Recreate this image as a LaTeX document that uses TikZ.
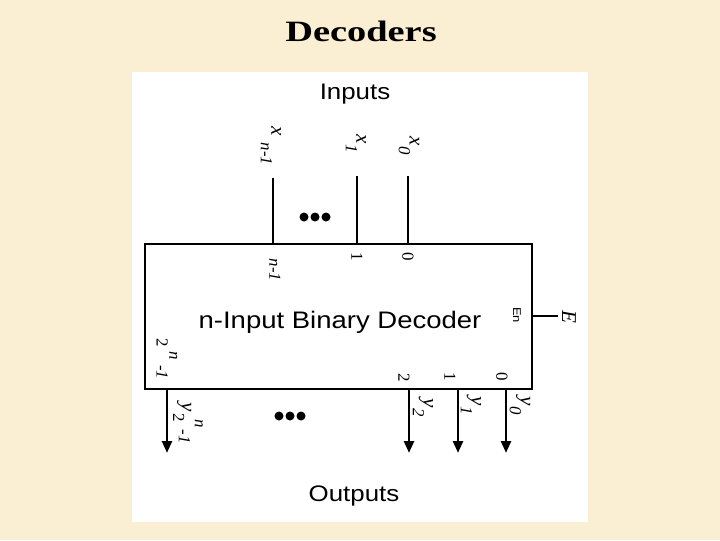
\documentclass[tikz,border=0pt]{standalone}
\usepackage{fontspec}
\setmainfont{Liberation Serif}
\setsansfont{Liberation Sans}[FakeStretch=1.15]
\newfontfamily\titlefont{Liberation Serif}[FakeStretch=1.3]
\usetikzlibrary{arrows.meta}
\definecolor{parchment}{RGB}{250,238,211}

\tikzset{
  inwire/.style={line width=1.3pt},
  buswire/.style={line width=2pt},
  outwire/.style={line width=2pt, -{Triangle[length=8.5pt,width=7pt]}},
  sig/.style={rotate=-90, inner sep=0pt, font=\fontsize{15}{15}\selectfont},
  portlbl/.style={rotate=-90, inner sep=0pt, font=\fontsize{12}{12}\selectfont},
  dot/.style={radius=4.5}
}
\newcommand{\subsz}{\fontsize{12}{12}\selectfont}
\newcommand{\signame}[3][0.05em]{\textit{#2}\raisebox{-7.5pt}{\subsz\hspace{#1}\textit{#3}}}

\begin{document}
\begin{tikzpicture}[x=0.025cm, y=-0.025cm]
    %background
    \fill[parchment] (0,0) rectangle (720,540);
    \useasboundingbox (0,0) rectangle (720,540);
    \fill[white] (132,72) rectangle (588,522);

    %title
    \node[font=\titlefont\bfseries\fontsize{21}{24}\selectfont] (title) at (361,31) {Decoders};

    %decoder block
    \node[draw, line width=1.6pt, minimum width=9.675cm, minimum height=3.625cm] (dec) at (338.5,316.5) {};
    \node[font=\sffamily\fontsize{17}{17}\selectfont] (decname) at (340,322) {n-Input Binary Decoder};
    \node[font=\sffamily\fontsize{16}{16}\selectfont] (inputs) at (355,94.5) {Inputs};
    \node[font=\sffamily\fontsize{16}{16}\selectfont] (outputs) at (354,496) {Outputs};

    %inputs
    \coordinate (xn) at (273,178);
    \coordinate (x1) at (357,176);
    \coordinate (x0) at (408,176);
    \draw[buswire] (xn) -- (xn |- dec.north);
    \draw[inwire] (x1) -- (x1 |- dec.north);
    \draw[inwire] (x0) -- (x0 |- dec.north);
    \foreach \i in {304,315,326} \fill (\i,217) circle[dot];

    %outputs
    \coordinate (yN) at (167,453);
    \coordinate (y2) at (409,453);
    \coordinate (y1) at (458,453);
    \coordinate (y0) at (506,453);
    \draw[outwire] (yN |- dec.south) -- (yN);
    \draw[outwire] (y2 |- dec.south) -- (y2);
    \draw[outwire] (y1 |- dec.south) -- (y1);
    \draw[outwire] (y0 |- dec.south) -- (y0);
    \foreach \i in {279,290,301} \fill (\i,416) circle[dot];

    %enable
    \coordinate (en) at (558,316);
    \draw[inwire] (dec.east |- en) -- (en);

    %labels
    \node[sig] (lxn) at (271,146) {\signame[0.4em]{x}{n-1}};
    \node[sig] (lx1) at (356,144) {\signame{x}{1}};
    \node[sig] (lx0) at (409,146) {\signame{x}{0}};
    \node[sig] (lyN) at (188,423) {\textit{y}{\subsz\hspace{0.15em}\raisebox{-6pt}{2}\hspace{-0.15em}\raisebox{9.5pt}{\textit{n}}\hspace{0.1em}\raisebox{-2pt}{\textit{-1}}}};
    \node[sig] (ly2) at (423,408) {\signame{y}{2}};
    \node[sig] (ly1) at (471,406) {\signame{y}{1}};
    \node[sig] (ly0) at (520,406) {\signame{y}{0}};
    \node[sig] (lE) at (569,317) {\textit{E}};
    \node[portlbl] (pn) at (275,270) {\textit{n-1}};
    \node[portlbl] (p1) at (357,257) {1};
    \node[portlbl] (p0) at (408,257) {0};
    \node[portlbl] (pN) at (167,359) {2\raisebox{9pt}{\hspace{0.25em}\textit{n}}\hspace{0.3em}\textit{-1}};
    \node[portlbl] (q2) at (404,378) {2};
    \node[portlbl] (q1) at (450,377) {1};
    \node[portlbl] (q0) at (502,377) {0};
    \node[rotate=-90, inner sep=0pt, font=\sffamily\fontsize{8}{8}\selectfont] (pen) at (517,315) {En};
\end{tikzpicture}
\end{document}
